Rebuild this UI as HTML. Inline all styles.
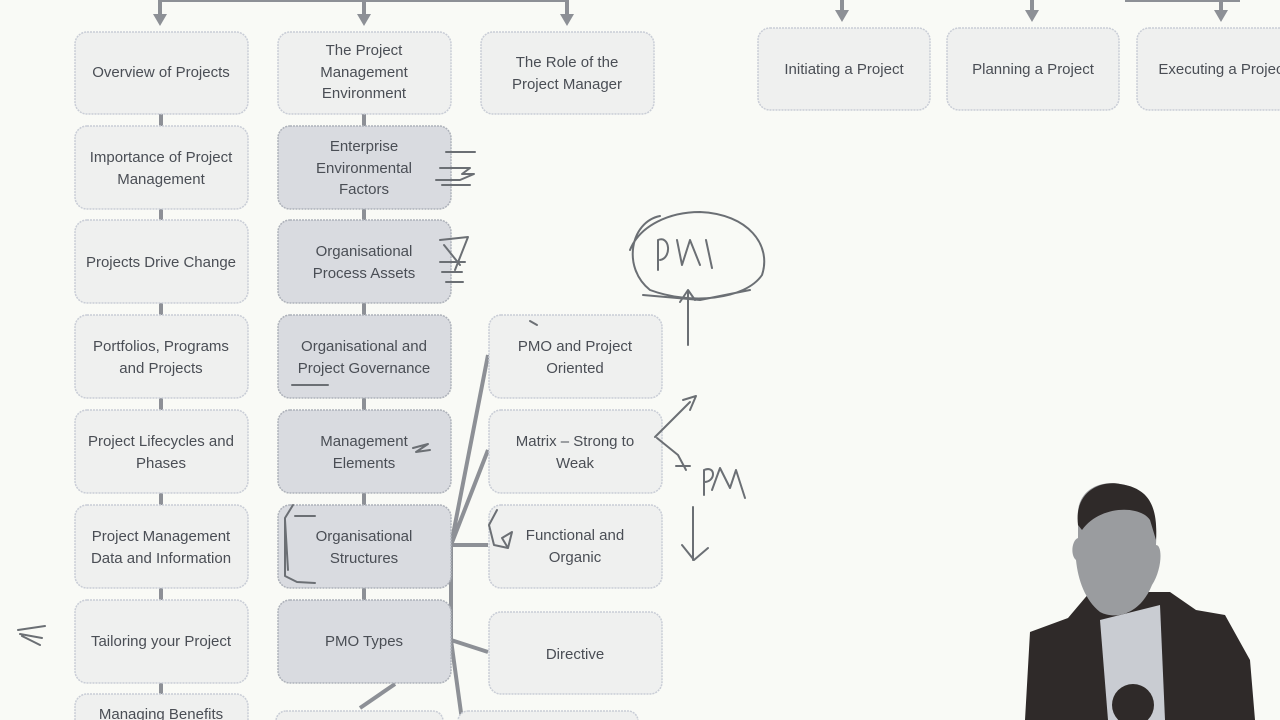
<!DOCTYPE html>
<html><head><meta charset="utf-8"><style>
html,body{margin:0;padding:0;background:#f9faf6;}
svg{display:block}
text{font-family:"Liberation Sans",sans-serif;font-size:15px;fill:#4a4e55;text-anchor:middle}
.l{fill:#eff0ef;stroke:#c9cdd6;stroke-width:1.5;stroke-dasharray:2 1}
.d{fill:#d9dbe0;stroke:#aeb2ba;stroke-width:1.5;stroke-dasharray:2 1}
.c{stroke:#8d9096;stroke-width:4;fill:none}
.ink{stroke:#6b6f74;stroke-width:2;fill:none;stroke-linecap:round;stroke-linejoin:round}
</style></head><body>
<svg width="1280" height="720" viewBox="0 0 1280 720">
<path class="c" d="M160 0V22M364 0V22M567 0V22M160 0H567M842 0V18M1032 0V18M1221 0V18M1125 0H1240"/>
<path d="M153 14L160 26L167 14ZM357 14L364 26L371 14ZM560 14L567 26L574 14ZM835 10L842 22L849 10ZM1025 10L1032 22L1039 10ZM1214 10L1221 22L1228 10Z" fill="#8d9096"/>
<path class="c" d="M161 114V720M364 114V683"/>
<path class="c" d="M451 545L488 355M451 545L488 450M451 545H488M451 640L488 652M451 640L462 720M451 640V545M395 684L360 708"/>
<rect class="l" x="75" y="32" width="173" height="82" rx="12"/>
<rect class="l" x="278" y="32" width="173" height="82" rx="12"/>
<rect class="l" x="481" y="32" width="173" height="82" rx="12"/>
<rect class="l" x="758" y="28" width="172" height="82" rx="12"/>
<rect class="l" x="947" y="28" width="172" height="82" rx="12"/>
<rect class="l" x="1137" y="28" width="172" height="82" rx="12"/>
<text x="161" y="77">Overview of Projects</text>
<text x="364" y="55">The Project</text><text x="364" y="77">Management</text><text x="364" y="98">Environment</text>
<text x="567" y="67">The Role of the</text><text x="567" y="89">Project Manager</text>
<text x="844" y="74">Initiating a Project</text>
<text x="1033" y="74">Planning a Project</text>
<text x="1223" y="74">Executing a Project</text>
<rect class="l" x="75" y="126" width="173" height="83" rx="12"/>
<rect class="l" x="75" y="220" width="173" height="83" rx="12"/>
<rect class="l" x="75" y="315" width="173" height="83" rx="12"/>
<rect class="l" x="75" y="410" width="173" height="83" rx="12"/>
<rect class="l" x="75" y="505" width="173" height="83" rx="12"/>
<rect class="l" x="75" y="600" width="173" height="83" rx="12"/>
<rect class="l" x="75" y="694" width="173" height="40" rx="12"/>
<text x="161" y="162">Importance of Project</text><text x="161" y="184">Management</text>
<text x="161" y="267">Projects Drive Change</text>
<text x="161" y="351">Portfolios, Programs</text><text x="161" y="373">and Projects</text>
<text x="161" y="446">Project Lifecycles and</text><text x="161" y="468">Phases</text>
<text x="161" y="541">Project Management</text><text x="161" y="563">Data and Information</text>
<text x="161" y="646">Tailoring your Project</text>
<text x="161" y="719">Managing Benefits</text>
<rect class="d" x="278" y="126" width="173" height="83" rx="12"/>
<rect class="d" x="278" y="220" width="173" height="83" rx="12"/>
<rect class="d" x="278" y="315" width="173" height="83" rx="12"/>
<rect class="d" x="278" y="410" width="173" height="83" rx="12"/>
<rect class="d" x="278" y="505" width="173" height="83" rx="12"/>
<rect class="d" x="278" y="600" width="173" height="83" rx="12"/>
<rect class="l" x="276" y="711" width="167" height="20" rx="10"/>
<text x="364" y="151">Enterprise</text><text x="364" y="173">Environmental</text><text x="364" y="194">Factors</text>
<text x="364" y="256">Organisational</text><text x="364" y="278">Process Assets</text>
<text x="364" y="351">Organisational and</text><text x="364" y="373">Project Governance</text>
<text x="364" y="446">Management</text><text x="364" y="468">Elements</text>
<text x="364" y="541">Organisational</text><text x="364" y="563">Structures</text>
<text x="364" y="646">PMO Types</text>
<rect class="l" x="489" y="315" width="173" height="83" rx="12"/>
<rect class="l" x="489" y="410" width="173" height="83" rx="12"/>
<rect class="l" x="489" y="505" width="173" height="83" rx="12"/>
<rect class="l" x="489" y="612" width="173" height="82" rx="12"/>
<rect class="l" x="458" y="711" width="180" height="20" rx="10"/>
<text x="575" y="351">PMO and Project</text><text x="575" y="373">Oriented</text>
<text x="575" y="446">Matrix – Strong to</text><text x="575" y="468">Weak</text>
<text x="575" y="540">Functional and</text><text x="575" y="562">Organic</text>
<text x="575" y="659">Directive</text>
<path class="ink" d="M446 152H475M440 168H470L462 174H474L460 180H436M442 185H470"/>
<path class="ink" d="M440 240L468 237L455 270M444 245L460 265M440 262H465M442 272H462M446 282H463"/>
<path class="ink" d="M292 385H328"/>
<path class="ink" d="M413 448L428 444L416 452L430 450"/>
<path class="ink" d="M293 505L285 518V576L297 582L315 583M295 516H315M285 520L288 570"/>
<path class="ink" d="M497 510L489 525L494 545L508 548M502 538L512 532L508 548Z"/>
<path class="ink" d="M530 321L537 325"/>
<path class="ink" d="M660 216C630 222 622 268 650 290C690 305 745 300 762 275C772 245 748 214 700 212C670 212 640 225 630 250M643 295L700 300L750 290M658 240V270M658 240C670 235 672 258 660 260M677 240L682 265L690 240L700 265M706 240L712 268"/>
<path class="ink" d="M688 345V292M680 302L688 290L695 300"/>
<path class="ink" d="M655 437L690 402M683 400L696 396L690 410M657 438L678 455L686 470M676 466H690"/>
<path class="ink" d="M704 470V495M704 470C716 465 716 482 704 482M712 490L720 468L730 488L736 470L745 498"/>
<path class="ink" d="M693 507V560M682 545L694 560L708 548"/>
<path class="ink" d="M18 630L45 626M20 634L42 638M22 636L40 645"/>
<path d="M1025 720L1030 632L1068 618L1090 592H1170L1196 610L1225 615L1250 660L1255 720Z" fill="#2f2a29"/>
<path d="M1100 620L1160 605L1165 720H1108Z" fill="#c9ccd2"/>
<path d="M1078 520C1075 490 1100 480 1120 484C1150 488 1158 510 1156 545C1163 545 1162 570 1152 585C1140 615 1115 620 1100 612C1085 600 1078 580 1076 560C1070 555 1072 540 1078 538Z" fill="#9a9c9f"/>
<path d="M1078 525C1074 492 1100 480 1120 484C1148 488 1158 505 1156 540L1150 520C1140 505 1100 505 1082 530Z" fill="#2f2a29"/>
<circle cx="1133" cy="705" r="21" fill="#2f2a29"/>
</svg>
</body></html>
